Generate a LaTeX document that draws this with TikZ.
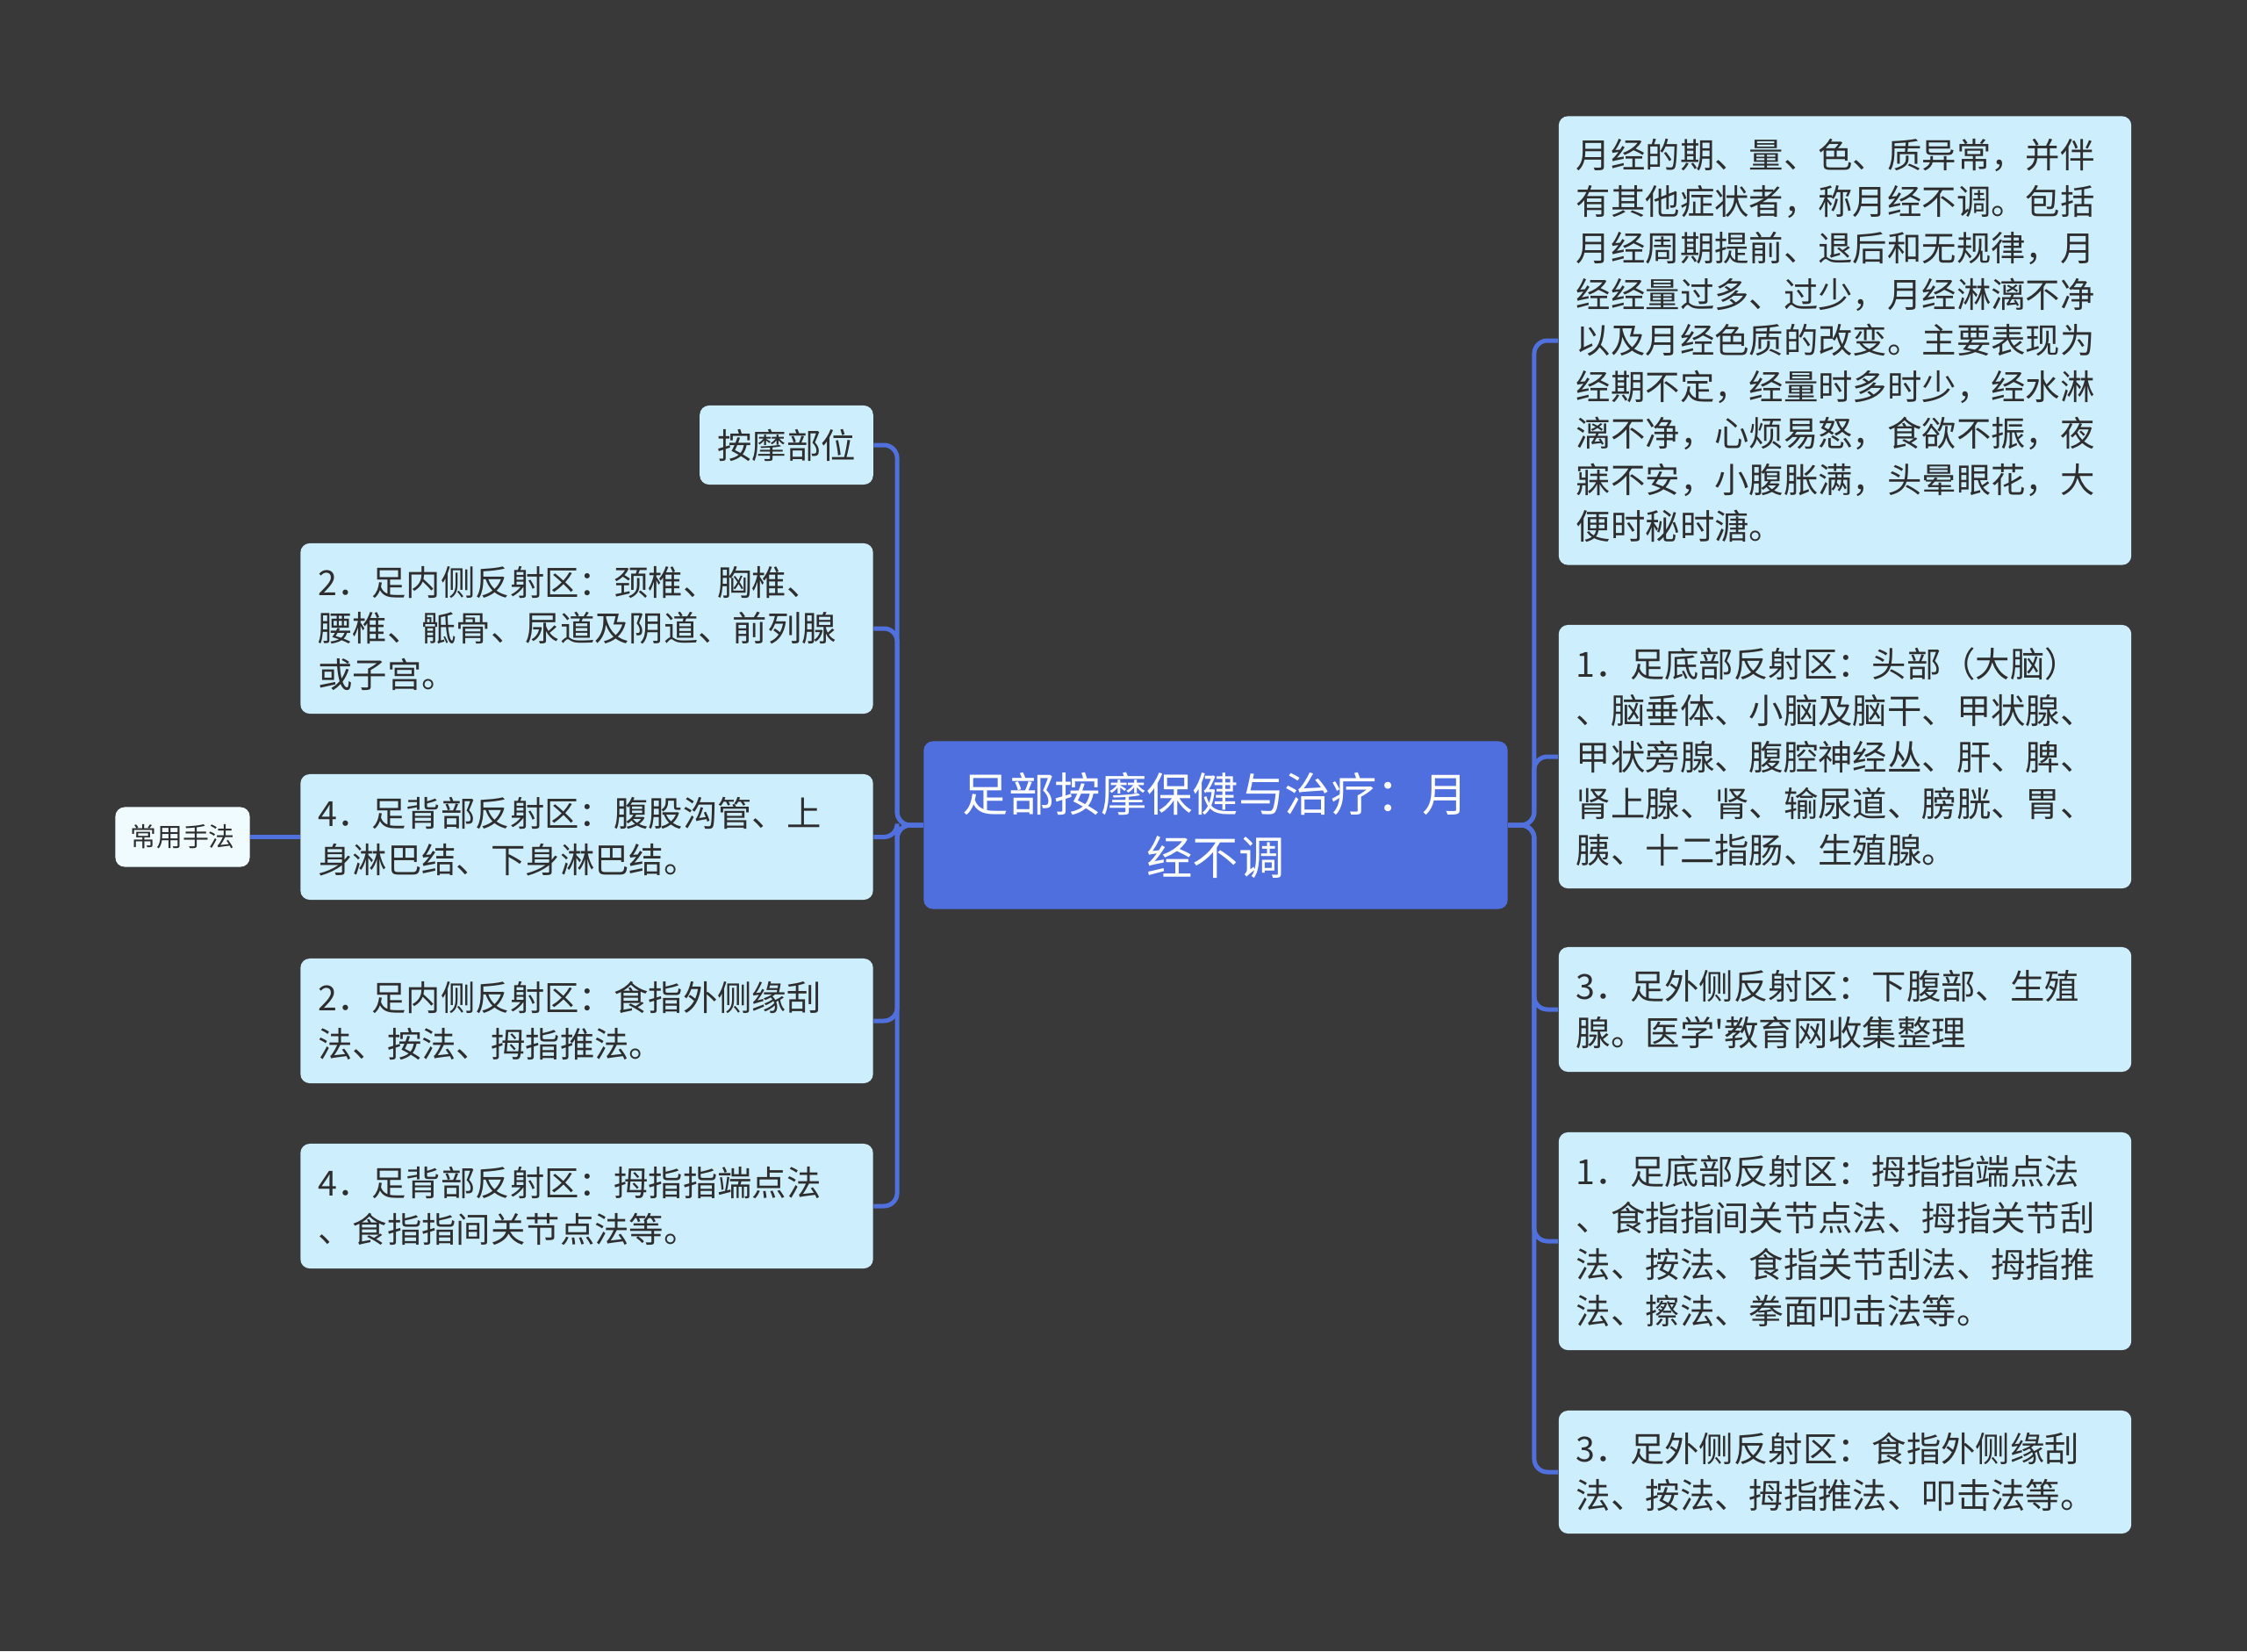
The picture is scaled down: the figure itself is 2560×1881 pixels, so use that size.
\documentclass[tikz,border=0pt]{standalone}
\usepackage{fontspec}
\newfontfamily\cjk{Noto Sans CJK SC}
\definecolor{bgc}{HTML}{3A393A}
\definecolor{topicc}{HTML}{4F6FDE}
\definecolor{leafc}{HTML}{CDEEFD}
\definecolor{toolc}{HTML}{F0FBFF}
\definecolor{linkc}{HTML}{5070DE}
\definecolor{txtc}{HTML}{2E2E2E}
\tikzset{topic/.style={fill=topicc,rounded corners=3pt,text=white,align=center,minimum width=6.65cm,minimum height=1.91cm,
    font=\cjk\fontsize{14.9}{20.4}\selectfont},
  leaf/.style={fill=leafc,rounded corners=3pt,text=txtc,align=left,inner xsep=0.2cm,inner ysep=0pt,text width=6.12cm,
    font=\cjk\fontsize{11.2}{15.05}\selectfont},
  tag/.style={leaf,text width=,minimum width=1.96cm,minimum height=0.9cm},
  tool/.style={fill=toolc,rounded corners=3pt,text=txtc,minimum width=1.53cm,minimum height=0.68cm,
    font=\cjk\fontsize{8.5}{10}\selectfont},
  link/.style={draw=linkc,line width=0.05cm,rounded corners=0.15cm}}

\begin{document}
\begin{tikzpicture}[x=0.01cm,y=-0.01cm]
\fill[bgc] (0,0) rectangle (2560,1881);
\useasboundingbox (0,0) rectangle (2560,1881);
\node[topic] (root) at (1385,940) {足部按摩保健与治疗：月\\经不调};
% right side
\node[leaf,minimum height=5.11cm] (r1) at (2102,388) {月经的期、量、色、质异常，并伴\\有其他症状者，称月经不调。包括\\月经周期提前、退后和无规律，月\\经经量过多、过少，月经淋漓不净\\以及月经色质的改变。主要表现为\\经期不定，经量时多时少，经水淋\\漓不净，心烦易怒，食欲不振，夜\\寐不安，小腹胀满，头晕眼花，大\\便时秘时溏。};
\node[leaf,minimum height=3.0cm] (r2) at (2102,862) {1．足底部反射区：头部（大脑）\\、脑垂体、小脑及脑干、甲状腺、\\甲状旁腺、腹腔神经丛、肝、脾、\\肾上腺、肾、输尿道、膀胱、胃、\\胰、十二指肠、生殖腺。};
\node[leaf,minimum height=1.42cm] (r3) at (2102,1150) {3．足外侧反射区：下腹部、生殖\\腺。医学'教育网收集整理};
\node[leaf,minimum height=2.48cm] (r4) at (2102,1414) {1．足底部反射区：拇指指端点法\\、食指指间关节点法、拇指关节刮\\法、按法、食指关节刮法、拇指推\\法、擦法、拳面叩击法等。};
\node[leaf,minimum height=1.40cm] (r5) at (2102,1677) {3．足外侧反射区：食指外侧缘刮\\法、按法、拇指推法、叩击法等。};
% left side
\node[tag] (l0) at (896,507) {按摩部位};
\node[leaf,minimum height=1.94cm] (l1) at (668.5,716) {2．足内侧反射区：颈椎、胸椎、\\腰椎、骶骨、尿道及阴道、前列腺\\或子宫。};
\node[leaf,minimum height=1.43cm] (l2) at (668.5,953.5) {4．足背部反射区：腹股沟管、上\\身淋巴结、下身淋巴结。};
\node[leaf,minimum height=1.42cm] (l3) at (668.5,1163) {2．足内侧反射区：食指外侧缘刮\\法、按法、拇指推法。};
\node[leaf,minimum height=1.42cm] (l4) at (668.5,1374) {4．足背部反射区：拇指指端点法\\、食指指间关节点法等。};
\node[tool] (hand) at (208,953.5) {常用手法};
\foreach \n in {r1,r2,r3,r4,r5}
  \draw[link] (root.east) -- ++(29.5,0) |- (\n.west);
\foreach \n in {l0,l1,l2,l3,l4}
  \draw[link] (root.west) -- ++(-29.5,0) |- (\n.east);
\draw[link] (hand.east) -- (l2.west);
\end{tikzpicture}
\end{document}
